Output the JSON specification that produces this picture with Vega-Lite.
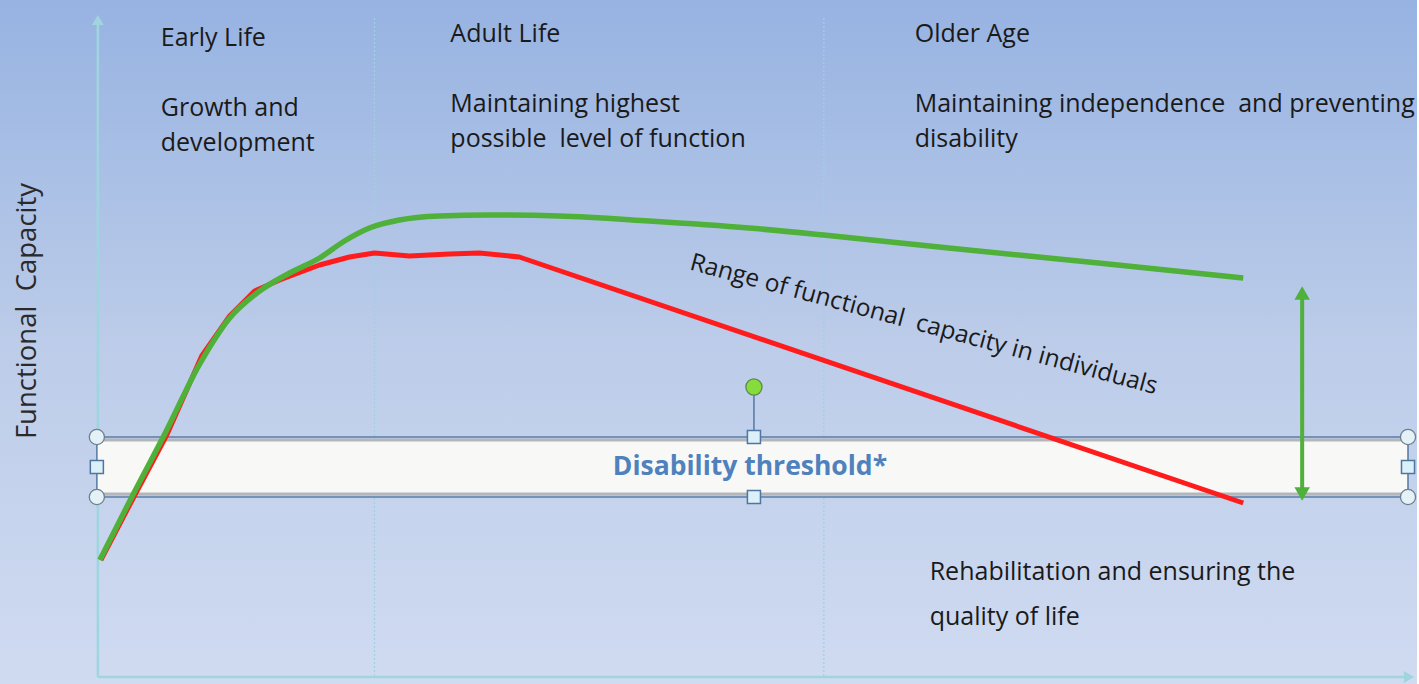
{
  "$schema": "https://vega.github.io/schema/vega-lite/v6.json",
  "width": 1419,
  "height": 684,
  "padding": 0,
  "autosize": {"type": "fit", "contains": "padding"},
  "config": {"view": {"stroke": null}},
  "datasets": {
    "bg": [{"x": 0, "x2": 1419, "y": 0, "y2": 684}],
    "grid": [{"x": 375, "y": 18, "y2": 677}, {"x": 825, "y": 18, "y2": 677}],
    "axes": [{"x": 98, "x2": 98, "y": 22, "y2": 677}, {"x": 98, "x2": 1408, "y": 677, "y2": 677}],
    "axisUp": [{"x": 98, "y": 20}],
    "axisRight": [{"x": 1411, "y": 677}],
    "box": [{"x": 97, "x2": 1410, "y": 439, "y2": 495}],
    "boxGray": [{"x": 100, "x2": 1407, "y": 440}, {"x": 100, "x2": 1407, "y": 494}],
    "boxBlue": [
      {"x": 97, "x2": 1410, "y": 437, "y2": 437},
      {"x": 97, "x2": 1410, "y": 497, "y2": 497},
      {"x": 97, "x2": 97, "y": 437, "y2": 497},
      {"x": 1410, "x2": 1410, "y": 437, "y2": 497},
      {"x": 755, "x2": 755, "y": 394, "y2": 437}
    ],
    "circles": [{"x": 97, "y": 437}, {"x": 97, "y": 497}, {"x": 1410, "y": 437}, {"x": 1410, "y": 497}],
    "squares": [{"x": 97, "y": 467}, {"x": 755, "y": 437}, {"x": 755, "y": 497}, {"x": 1410, "y": 467}],
    "rot": [{"x": 755, "y": 387}],
    "green": [
      {"x": 100, "y": 560}, {"x": 132, "y": 497}, {"x": 165, "y": 434}, {"x": 200, "y": 364},
      {"x": 230, "y": 318}, {"x": 260, "y": 291}, {"x": 290, "y": 273}, {"x": 320, "y": 258},
      {"x": 345, "y": 241}, {"x": 370, "y": 228}, {"x": 400, "y": 220}, {"x": 440, "y": 216},
      {"x": 490, "y": 215}, {"x": 560, "y": 216}, {"x": 650, "y": 221}, {"x": 750, "y": 228},
      {"x": 825, "y": 235}, {"x": 950, "y": 248}, {"x": 1100, "y": 263}, {"x": 1245, "y": 278}
    ],
    "red": [
      {"x": 101, "y": 560}, {"x": 134, "y": 497}, {"x": 167, "y": 435}, {"x": 202, "y": 356},
      {"x": 230, "y": 316}, {"x": 255, "y": 291}, {"x": 280, "y": 280}, {"x": 320, "y": 265},
      {"x": 350, "y": 257}, {"x": 375, "y": 253}, {"x": 410, "y": 256}, {"x": 450, "y": 254},
      {"x": 480, "y": 253}, {"x": 520, "y": 257}, {"x": 1245, "y": 503}
    ],
    "arrowLine": [{"x": 1304, "x2": 1304, "y": 296, "y2": 492}],
    "arrowUp": [{"x": 1304, "y": 293}],
    "arrowDown": [{"x": 1304, "y": 494}],
    "labels": [
      {"x": 161, "y": 38, "text": "Early Life"},
      {"x": 161, "y": 108, "text": "Growth and"},
      {"x": 161, "y": 143, "text": "development"},
      {"x": 451, "y": 34, "text": "Adult Life"},
      {"x": 451, "y": 104, "text": "Maintaining highest"},
      {"x": 451, "y": 139, "text": "possible\u00a0 level of function"},
      {"x": 916, "y": 34, "text": "Older Age"},
      {"x": 916, "y": 104, "text": "Maintaining independence\u00a0 and preventing"},
      {"x": 916, "y": 139, "text": "disability"},
      {"x": 931, "y": 572, "text": "Rehabilitation and ensuring the"},
      {"x": 931, "y": 617, "text": "quality of life"}
    ],
    "ytitle": [{"x": 28, "y": 311, "text": "Functional\u00a0 Capacity"}],
    "range": [{"x": 925, "y": 325, "text": "Range of functional\u00a0 capacity in individuals"}],
    "thresh": [{"x": 751, "y": 467, "text": "Disability threshold*"}]
  },
  "encoding": {
    "x": {"field": "x", "type": "quantitative", "scale": {"domain": [0, 1419], "nice": false, "zero": false}, "axis": null},
    "y": {"field": "y", "type": "quantitative", "scale": {"domain": [684, 0], "nice": false, "zero": false}, "axis": null}
  },
  "layer": [
    {
      "data": {"name": "bg"},
      "mark": {"type": "rect", "fill": {"gradient": "linear", "x1": 0, "y1": 0, "x2": 0, "y2": 1, "stops": [{"offset": 0, "color": "#97b3e2"}, {"offset": 0.5, "color": "#bccce9"}, {"offset": 1, "color": "#d0dbf1"}]}},
      "encoding": {"x2": {"field": "x2"}, "y2": {"field": "y2"}}
    },
    {
      "data": {"name": "grid"},
      "mark": {"type": "rule", "color": "#9fd2de", "strokeWidth": 1.2, "strokeDash": [2, 2]},
      "encoding": {"y2": {"field": "y2"}}
    },
    {
      "data": {"name": "axes"},
      "mark": {"type": "rule", "color": "#a0d5e0", "strokeWidth": 2.5},
      "encoding": {"x2": {"field": "x2"}, "y2": {"field": "y2"}}
    },
    {
      "data": {"name": "axisUp"},
      "mark": {"type": "point", "shape": "triangle-up", "filled": true, "size": 140, "color": "#a0d5e0", "opacity": 1}
    },
    {
      "data": {"name": "axisRight"},
      "mark": {"type": "point", "shape": "triangle-right", "filled": true, "size": 140, "color": "#a0d5e0", "opacity": 1}
    },
    {
      "data": {"name": "box"},
      "mark": {"type": "rect", "fill": "#f8f8f7"},
      "encoding": {"x2": {"field": "x2"}, "y2": {"field": "y2"}}
    },
    {
      "data": {"name": "boxGray"},
      "mark": {"type": "rule", "color": "#b3b6ba", "strokeWidth": 3},
      "encoding": {"x2": {"field": "x2"}}
    },
    {
      "data": {"name": "boxBlue"},
      "mark": {"type": "rule", "color": "#5a7ea6", "strokeWidth": 1.6},
      "encoding": {"x2": {"field": "x2"}, "y2": {"field": "y2"}}
    },
    {
      "data": {"name": "red"},
      "mark": {"type": "line", "color": "#ff1c1c", "strokeWidth": 5, "interpolate": "linear", "strokeJoin": "round"}
    },
    {
      "data": {"name": "green"},
      "mark": {"type": "line", "color": "#4fb03a", "strokeWidth": 5.5, "interpolate": "monotone"}
    },
    {
      "data": {"name": "arrowLine"},
      "mark": {"type": "rule", "color": "#4fb03a", "strokeWidth": 4},
      "encoding": {"x2": {"field": "x2"}, "y2": {"field": "y2"}}
    },
    {
      "data": {"name": "arrowUp"},
      "mark": {"type": "point", "shape": "triangle-up", "filled": true, "size": 240, "color": "#4fb03a", "opacity": 1}
    },
    {
      "data": {"name": "arrowDown"},
      "mark": {"type": "point", "shape": "triangle-down", "filled": true, "size": 240, "color": "#4fb03a", "opacity": 1}
    },
    {
      "data": {"name": "circles"},
      "mark": {"type": "point", "shape": "circle", "filled": true, "size": 230, "fill": "#e4f2f8", "stroke": "#6d7f8e", "strokeWidth": 1.3, "opacity": 1}
    },
    {
      "data": {"name": "squares"},
      "mark": {"type": "point", "shape": "square", "filled": true, "size": 170, "fill": "#dcf0f9", "stroke": "#4f76a0", "strokeWidth": 1.5, "opacity": 1}
    },
    {
      "data": {"name": "rot"},
      "mark": {"type": "point", "shape": "circle", "filled": true, "size": 260, "fill": "#86dc3c", "stroke": "#5d8a48", "strokeWidth": 1.3, "opacity": 1}
    },
    {
      "data": {"name": "labels"},
      "mark": {"type": "text", "align": "left", "baseline": "middle", "font": "Open Sans", "fontSize": 25, "color": "#1a1a1a"},
      "encoding": {"text": {"field": "text"}}
    },
    {
      "data": {"name": "ytitle"},
      "mark": {"type": "text", "align": "center", "baseline": "middle", "angle": 270, "font": "Open Sans", "fontSize": 27.5, "color": "#2a2a2a"},
      "encoding": {"text": {"field": "text"}}
    },
    {
      "data": {"name": "range"},
      "mark": {"type": "text", "align": "center", "baseline": "middle", "angle": 15, "font": "Open Sans", "fontSize": 24.5, "color": "#1a1a1a"},
      "encoding": {"text": {"field": "text"}}
    },
    {
      "data": {"name": "thresh"},
      "mark": {"type": "text", "align": "center", "baseline": "middle", "font": "Open Sans", "fontWeight": "bold", "fontSize": 26.5, "color": "#4f81bd"},
      "encoding": {"text": {"field": "text"}}
    }
  ]
}
